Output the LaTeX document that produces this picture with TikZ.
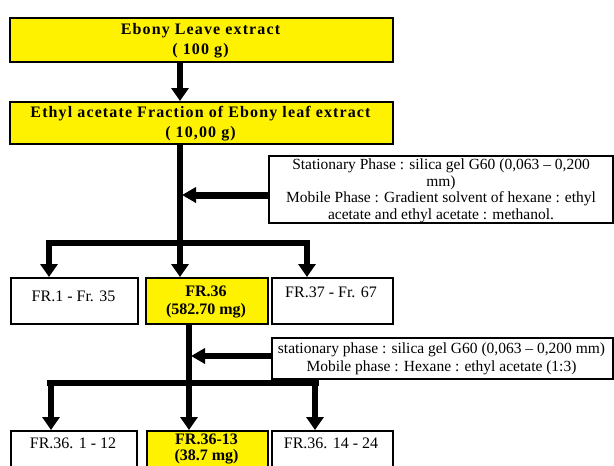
\documentclass[tikz,border=0pt]{standalone}
\usepackage{fontspec}
\setmainfont{Liberation Serif}
\usetikzlibrary{arrows.meta}
\tikzset{
  box/.style={draw=black, line width=1.8pt, rectangle, inner sep=0pt, anchor=north west},
  ybox/.style={box, fill=yellow},
  wbox/.style={box, fill=white},
  vconn/.style={line width=5.5pt, -{Triangle[width=17pt,length=13pt]}},
  hconn/.style={line width=7pt, -{Triangle[width=15pt,length=14pt]}},
  trunk/.style={line width=5.5pt},
  hd/.style={font=\fontsize{16}{20}\selectfont\bfseries\addfontfeatures{LetterSpace=7}, align=center},
  fb/.style={font=\fontsize{16}{18}\selectfont\bfseries, align=center},
  fb2/.style={font=\fontsize{16}{16}\selectfont\bfseries, align=center},
  fr/.style={font=\fontsize{16}{18}\selectfont, align=center},
  st/.style={font=\fontsize{15.5}{16.5}\selectfont, align=center},
  st2/.style={font=\fontsize{15.5}{18}\selectfont, align=center},
}
\begin{document}
\begin{tikzpicture}[x=1pt,y=-1pt]
\useasboundingbox (0,0) rectangle (614,466);
% top boxes
\node[ybox, minimum width=383pt, minimum height=44pt] (b1) at (9,17) {};
\node[hd] (b1t) at (200.5,41) {Ebony Leave extract\\( 100 g)};
\node[ybox, minimum width=383pt, minimum height=42pt] (b2) at (9,101) {};
\node[hd] (b2t) at (200.5,124) {Ethyl acetate Fraction of Ebony leaf extract\\( 10,00 g)};
% first column coordinates
\coordinate (c1) at (180,0);
\coordinate (br1) at (0,243);
\coordinate (bl1) at (46,243);
\coordinate (brr1) at (310,243);
% stationary box 1
\node[wbox, minimum width=344pt, minimum height=67pt] (s1) at (268,155) {};
\node[st] (s1t) at (441,191) {Stationary Phase : silica gel G60 (0,063 -- 0,200\\mm)\\Mobile Phase : Gradient solvent of hexane : ethyl\\acetate and ethyl acetate : methanol.};
% fraction boxes level 1
\node[wbox, minimum width=127pt, minimum height=46pt] (fr1) at (10,277) {};
\node[fr] (fr1t) at (73.5,296) {FR.1 - Fr. 35};
\node[ybox, minimum width=122pt, minimum height=46pt] (fr36) at (145,277) {};
\node[fb] (fr36t) at (206,302) {FR.36\\(582.70 mg)};
\node[wbox, minimum width=121pt, minimum height=46pt] (fr37) at (271,277) {};
\node[fr] (fr37t) at (331,292) {FR.37 - Fr. 67};
% connectors level 1
\draw[vconn] (b1.south -| c1) -- (b2.north -| c1);
\draw[trunk] (b2.south -| c1) -- (br1 -| c1);
\draw[vconn] (br1 -| c1) -- (fr36.north -| c1);
\draw[trunk] (bl1) -- (brr1);
\draw[vconn] ([xshift=3pt]bl1) -- (fr1.north -| 49,0);
\draw[vconn] ([xshift=-3pt]brr1) -- (fr37.north -| 307,0);
\draw[hconn] (s1.west |- 0,195) -- ([xshift=2pt]c1 |- 0,195);
% second level coordinates
\coordinate (c2) at (189,0);
\coordinate (bl2) at (47,383);
\coordinate (brr2) at (319,383);
% stationary box 2
\node[wbox, minimum width=341pt, minimum height=41pt] (s2) at (271,337) {};
\node[st2] (s2t) at (441.5,359) {stationary phase : silica gel G60 (0,063 -- 0,200 mm)\\Mobile phase : Hexane : ethyl acetate (1:3)};
% fraction boxes level 2
\node[wbox, minimum width=126pt, minimum height=50pt] (g1) at (10,430) {};
\node[fr] (g1t) at (73,443) {FR.36. 1 - 12};
\node[ybox, minimum width=121pt, minimum height=50pt] (g2) at (146,430) {};
\node[fb2] (g2t) at (206.5,449) {FR.36-13\\(38.7 mg)};
\node[wbox, minimum width=121pt, minimum height=50pt] (g3) at (271,430) {};
\node[fr] (g3t) at (331,443) {FR.36. 14 - 24};
% connectors level 2
\draw[trunk] (fr36.south -| c2) -- (bl2 -| c2);
\draw[vconn] (bl2 -| c2) -- (g2.north -| c2);
\draw[trunk] (bl2) -- (brr2);
\draw[vconn] ([xshift=4pt]bl2) -- (g1.north -| 51,0);
\draw[vconn] ([xshift=-4pt]brr2) -- (g3.north -| 315,0);
\draw[hconn, line width=6pt] (s2.west |- 0,356) -- ([xshift=2pt]c2 |- 0,356);
\end{tikzpicture}
\end{document}
